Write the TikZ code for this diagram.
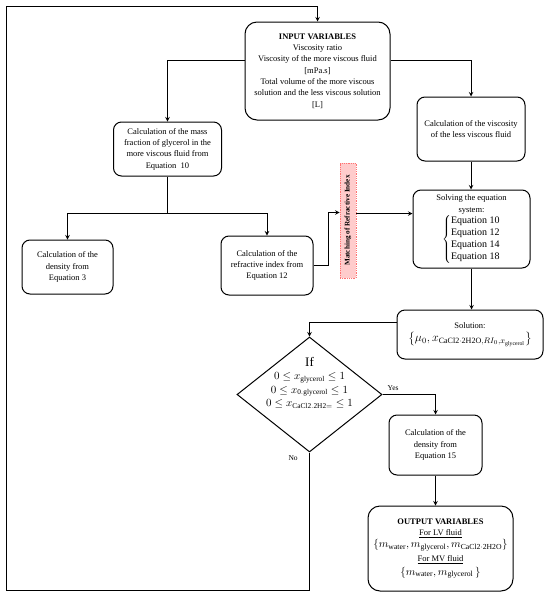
\documentclass[tikz,border=0pt]{standalone}
\usepackage{amsmath}
\usepackage{amssymb}
\usepackage{fontspec}
\setmainfont{Liberation Serif}
\usetikzlibrary{arrows}
\usetikzlibrary{shapes.geometric,calc}

\begin{document}
\begin{tikzpicture}[x=1pt,y=-1pt,
	box/.style={draw, line width=1pt, rounded corners=8pt, align=center, inner sep=1pt, font=\fontsize{8.5}{11.3}\selectfont},
	link/.style={line width=1pt},
	arr/.style={line width=1pt, -stealth},
	lbl/.style={font=\fontsize{7.5}{9}\selectfont}]
	\useasboundingbox (0,0) rectangle (550,595);

	\node[box, rounded corners=12pt, minimum width=145pt, minimum height=98pt] (inp) at (317.5,71) {\textbf{INPUT VARIABLES}\\ Viscosity ratio\\ Viscosity of the more viscous fluid\\ {[mPa.s]}\\ Total volume of the more viscous\\ solution and the less viscous solution\\ {[L]}};
	\node[box, minimum width=108pt, minimum height=54pt] (mass) at (167.5,149) {Calculation of the mass\\ fraction of glycerol in the\\ more viscous fluid from\\ Equation~~10};
	\node[box, minimum width=108pt, minimum height=64pt] (visc) at (471,129) {Calculation of the viscosity\\ of the less viscous fluid};
	\node[box, minimum width=91pt, minimum height=54pt] (dens3) at (67.5,267) {Calculation of the\\ density from\\ Equation 3};
	\node[box, minimum width=92pt, minimum height=59pt] (refr) at (267,265.5) {Calculation of the\\ refractive index from\\ Equation 12};
	\node[draw=red!55, densely dotted, fill=red!20, line width=0.8pt, minimum width=16pt, minimum height=115pt, inner sep=0pt, font=\fontsize{7.2}{8}\selectfont\bfseries] (match) at (348,220.5) {\rotatebox{90}{Matching of Refractive Index}};
	\node[box, minimum width=117pt, minimum height=78pt] (solve) at (471.5,229) {Solving the equation\\ system:\\ {\fontsize{10}{12}\selectfont$\left\{\begin{array}{@{}l@{}}\text{Equation 10}\\ \text{Equation 12}\\ \text{Equation 14}\\ \text{Equation 18}\end{array}\right.$\hspace{14pt}}};
	\node[box, minimum width=146pt, minimum height=49pt] (sol) at (470,334.5) {Solution:\\[2pt] {\fontsize{11.5}{13}\selectfont$\left\{\mu_0, x_{\mathrm{CaCl2\cdot 2H2O},RI_0,x_{\mathrm{glycerol}}}\right\}$}};
	\node[draw, diamond, line width=1pt, minimum width=145pt, minimum height=115pt, inner sep=0pt] (dia) at (309.5,394.5) {\smash{\makebox[0pt]{\raisebox{8pt}{\fontsize{10.5}{13.5}\selectfont\begin{tabular}{@{}c@{}}{\fontsize{13}{14}\selectfont If}\\ $0\le x_{\mathrm{glycerol}}\le 1$\\ $0\le x_{\mathrm{0.glycerol}}\le 1$\\ $0\le x_{\mathrm{CaCl2.2H2=}}\le 1$\end{tabular}}}}};
	\node[box, minimum width=93pt, minimum height=60pt] (dens15) at (435.5,445) {Calculation of the\\ density from\\ Equation 15};
	\node[box, rounded corners=12pt, minimum width=145pt, minimum height=85pt] (out) at (440.5,548.5) {\textbf{OUTPUT VARIABLES}\\ \underline{For LV fluid}\\[1pt] {\fontsize{11}{12}\selectfont$\{m_{\mathrm{water}}, m_{\mathrm{glycerol}}, m_{\mathrm{CaCl2\cdot 2H2O}}\}$}\\[3pt] \underline{For MV fluid}\\[2pt] {\fontsize{11}{12}\selectfont$\{m_{\mathrm{water}}, m_{\mathrm{glycerol}}\,\}$}};

	\draw[arr] ([yshift=11pt]inp.west) -| (mass.north);
	\draw[arr] ([yshift=11pt]inp.east) -| (visc.north);
	\coordinate (fork) at (167.5,213);
	\draw[link] (mass.south) -- (fork);
	\draw[arr] (fork) -| (dens3.north);
	\draw[arr] (fork) -| (refr.north);
	\coordinate (bend) at (328,265.5);
	\coordinate (mIn) at ([yshift=8pt]match.west);
	\coordinate (mOut) at ([yshift=7pt]match.east);
	\draw[arr] (refr.east) -- (bend) |- (mIn);
	\draw[arr] (mOut) -- (mOut -| solve.west);
	\draw[arr] (visc.south) -- (visc.south |- solve.north);
	\draw[arr] (solve.south) -- (solve.south |- sol.north);
	\draw[arr] ([yshift=12.5pt]sol.west) -| (dia.north);
	\draw[arr] (dia.east) -| node[lbl, pos=0.1, above]{Yes} (dens15.north);
	\draw[arr] (dens15.south) -- (dens15.south |- out.north);

	% loop back to the input
	\coordinate (loopB) at (6,590);
	\coordinate (loopT) at (6,6);
	\draw[arr] (dia.south) |- node[lbl, pos=0.02, left=8pt]{No} (loopB) -- (loopT) -| (inp.north);
\end{tikzpicture}
\end{document}
